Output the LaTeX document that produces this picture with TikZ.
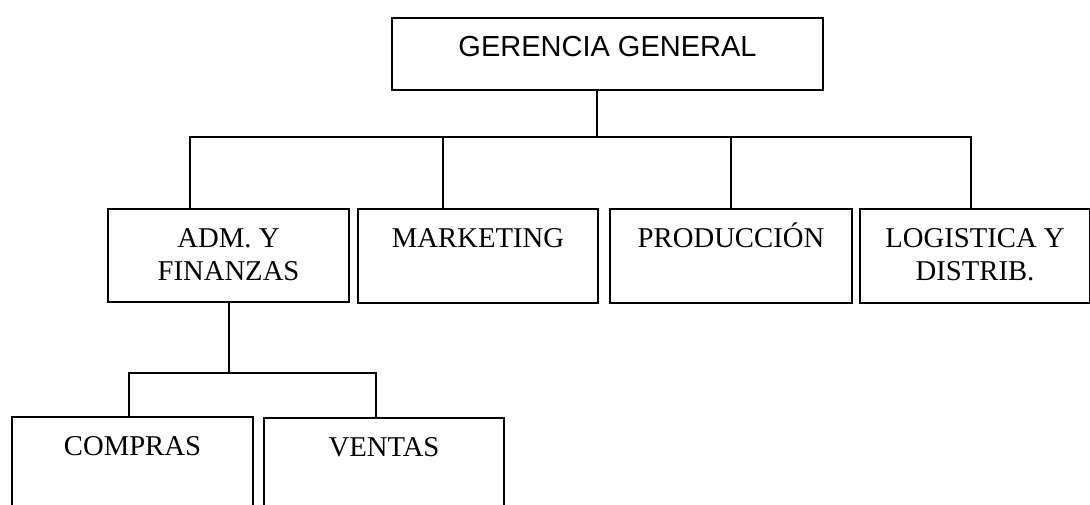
\documentclass[tikz,border=0pt]{standalone}
\usepackage{fontspec}
\setmainfont{Liberation Serif}
\newfontfamily\arialfont{Liberation Sans}
\newcommand{\boxtext}[3]{\parbox[b][#2][t]{#1}{\centering\rule{0pt}{38pt}#3}}

\begin{document}
\begin{tikzpicture}[x=1pt, y=-1pt, unitbox/.style={draw, line width=2pt, inner sep=0pt, anchor=north west, font=\fontsize{28.7pt}{33pt}\selectfont}, link/.style={line width=2pt, line cap=rect}]
\useasboundingbox (0,0) rectangle (1090,504);
%top
\node[unitbox, font=\arialfont\fontsize{29pt}{33pt}\selectfont] at (391,17) (ger) {\boxtext{431pt}{72pt}{GERENCIA GENERAL}};
\node[unitbox] at (107,208) (adm) {\boxtext{241pt}{93pt}{ADM. Y\\FINANZAS}};
\node[unitbox] at (357,208) (mkt) {\boxtext{240pt}{94pt}{MARKETING}};
\node[unitbox] at (609,208) (prod) {\boxtext{242pt}{94pt}{PRODUCCIÓN}};
\node[unitbox] at (859,208) (log) {\boxtext{230pt}{94pt}{LOGISTICA Y\\DISTRIB.}};
\node[unitbox] at (11,416) (com) {\boxtext{241pt}{100pt}{COMPRAS}};
\node[unitbox] at (263,417) (ven) {\boxtext{240pt}{100pt}{VENTAS}};
\coordinate (gtop) at (597,137);
\coordinate (b1) at (190,137);
\coordinate (b2) at (443,137);
\coordinate (b3) at (731,137);
\coordinate (b4) at (971,137);
\draw[link] (ger.south -| gtop) -- (gtop);
\draw[link] (adm.north -| b1) -- (b1) -- (b4) -- (log.north -| b4);
\draw[link] (b2) -- (mkt.north -| b2);
\draw[link] (b3) -- (prod.north -| b3);
\coordinate (atop) at (229,373);
\coordinate (c1) at (129,373);
\coordinate (c2) at (376,373);
\draw[link] (adm.south -| atop) -- (atop);
\draw[link] (com.north -| c1) -- (c1) -- (c2) -- (ven.north -| c2);
\end{tikzpicture}
\end{document}
